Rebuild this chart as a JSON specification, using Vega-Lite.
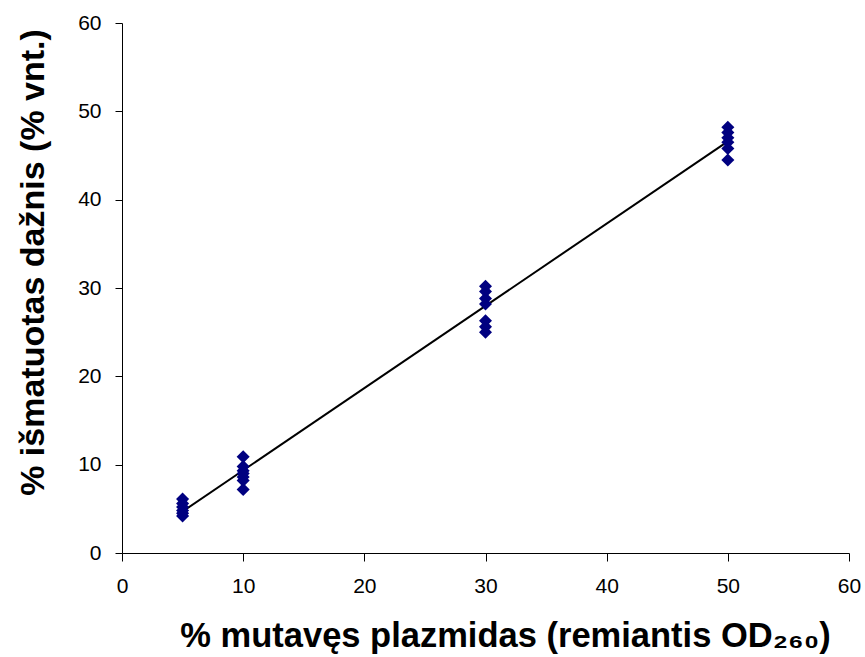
{
  "$schema": "https://vega.github.io/schema/vega-lite/v6.json",
  "width": 727,
  "height": 530,
  "autosize": "none",
  "padding": {"left": 122, "top": 23, "right": 16, "bottom": 104},
  "background": "white",
  "config": {"view": {"stroke": null}},
  "datasets": {
    "pts": [
      {"x": 5, "y": 6.1}, {"x": 5, "y": 5.6}, {"x": 5, "y": 5.2}, {"x": 5, "y": 4.8}, {"x": 5, "y": 4.5}, {"x": 5, "y": 4.2},
      {"x": 10, "y": 10.9}, {"x": 10, "y": 9.8}, {"x": 10, "y": 9.3}, {"x": 10, "y": 9.0}, {"x": 10, "y": 8.6}, {"x": 10, "y": 8.2}, {"x": 10, "y": 7.2},
      {"x": 30, "y": 30.2}, {"x": 30, "y": 29.6}, {"x": 30, "y": 28.8}, {"x": 30, "y": 28.2}, {"x": 30, "y": 26.3}, {"x": 30, "y": 25.6}, {"x": 30, "y": 25.0},
      {"x": 50, "y": 48.2}, {"x": 50, "y": 47.6}, {"x": 50, "y": 47.0}, {"x": 50, "y": 46.5}, {"x": 50, "y": 45.8}, {"x": 50, "y": 44.5}
    ],
    "fit": [
      {"x": 5, "y": 4.7},
      {"x": 50, "y": 46.6}
    ]
  },
  "layer": [
    {
      "data": {"name": "fit"},
      "mark": {"type": "line", "color": "#000000", "strokeWidth": 2},
      "encoding": {
        "x": {"field": "x", "type": "quantitative"},
        "y": {"field": "y", "type": "quantitative"}
      }
    },
    {
      "data": {"name": "pts"},
      "mark": {"type": "point", "shape": "diamond", "filled": true, "color": "#000080", "opacity": 1, "size": 170},
      "encoding": {
        "x": {
          "field": "x", "type": "quantitative",
          "scale": {"domain": [0, 60], "nice": false, "zero": true},
          "axis": {
            "values": [0, 10, 20, 30, 40, 50, 60],
            "grid": false,
            "title": "% mutavęs plazmidas (remiantis OD₂₆₀)",
            "titleFont": "Liberation Sans",
            "titleFontSize": 34.5,
            "titleFontWeight": "bold",
            "titleColor": "#000000",
            "titlePadding": 23,
            "titleX": 383,
            "labelFont": "Liberation Sans",
            "labelFontSize": 21,
            "labelColor": "#000000",
            "labelPadding": 14,
            "tickSize": 8,
            "tickColor": "#000000",
            "domainColor": "#000000",
            "labelFlush": false
          }
        },
        "y": {
          "field": "y", "type": "quantitative",
          "scale": {"domain": [0, 60], "nice": false},
          "axis": {
            "values": [0, 10, 20, 30, 40, 50, 60],
            "grid": false,
            "title": "% išmatuotas dažnis (% vnt.)",
            "titleFont": "Liberation Sans",
            "titleFontSize": 34,
            "titleFontWeight": "bold",
            "titleColor": "#000000",
            "titlePadding": 27,
            "titleY": 239,
            "labelFont": "Liberation Sans",
            "labelFontSize": 21,
            "labelColor": "#000000",
            "labelPadding": 14,
            "tickSize": 7,
            "tickColor": "#000000",
            "domainColor": "#000000",
            "labelFlush": false
          }
        }
      }
    }
  ]
}
